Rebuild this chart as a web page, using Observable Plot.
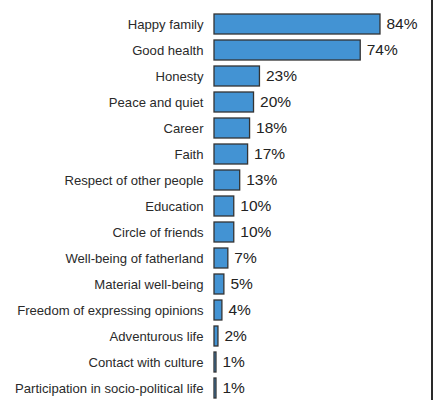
<!DOCTYPE html>
<html>
<head>
<meta charset="utf-8">
<script src="https://cdn.jsdelivr.net/npm/d3@7"></script>
<script src="https://cdn.jsdelivr.net/npm/@observablehq/plot@0.6"></script>
<style>
  body { margin: 0; background: #fff; }
  #wrap { position: relative; width: 435px; height: 400px; overflow: hidden; background: #fff; }
  #edge { position: absolute; left: 431px; top: 0; width: 2px; height: 400px; background: #2a2a2a; }
</style>
</head>
<body>
<div id="wrap"><div id="edge"></div></div>
<script>
const categories = [
  "Happy family",
  "Good health",
  "Honesty",
  "Peace and quiet",
  "Career",
  "Faith",
  "Respect of other people",
  "Education",
  "Circle of friends",
  "Well-being of fatherland",
  "Material well-being",
  "Freedom of expressing opinions",
  "Adventurous life",
  "Contact with culture",
  "Participation in socio-political life"
];
const values = [84, 74, 23, 20, 18, 17, 13, 10, 10, 7, 5, 4, 2, 1, 1];

const data = categories.map((c, i) => ({category: c, value: values[i]}));

const chart = Plot.plot({
  width: 435,
  height: 408,
  marginLeft: 214,
  marginRight: 23.4,
  marginTop: 3.3,
  marginBottom: 0,
  style: {fontFamily: "'Liberation Sans', Arial, sans-serif", background: "#fff", color: "#333"},
  x: {domain: [0, 100], axis: null},
  y: {domain: categories, padding: 0.227, label: null, axis: null},
  marks: [
    Plot.axisY({tickSize: 0, tickPadding: 11, fontSize: 13.1, label: null, fill: "#2a2a2a"}),
    Plot.barX(data, {y: "category", x: "value", fill: "#4393d3", stroke: "#333", strokeWidth: 1.3}),
    Plot.text(data, {y: "category", x: "value", text: d => d.value + "%", dx: 6, textAnchor: "start", fontSize: 15.5, fill: "#222"})
  ]
});
document.getElementById("wrap").prepend(chart);
</script>
</body>
</html>
